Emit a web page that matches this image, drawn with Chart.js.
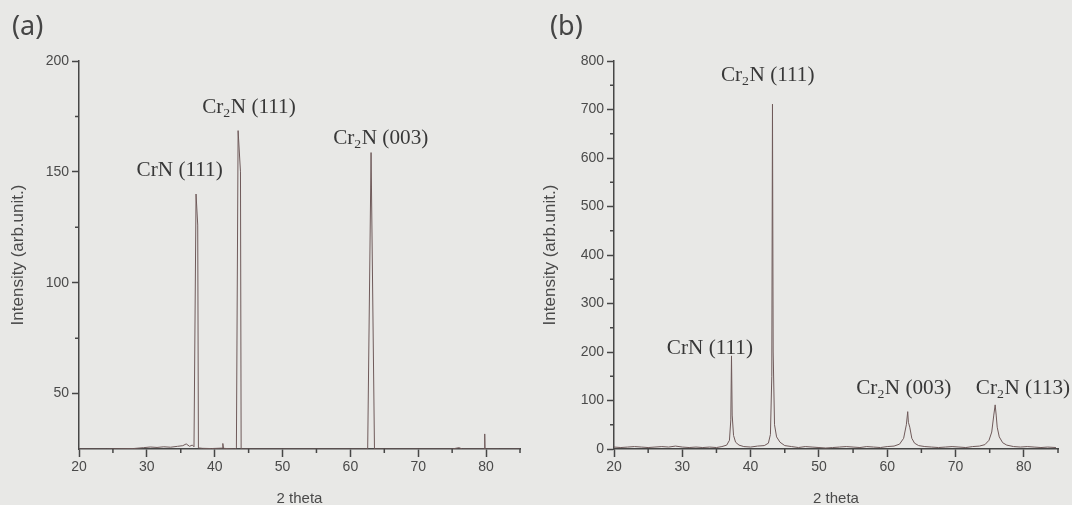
<!DOCTYPE html>
<html><head><meta charset="utf-8">
<script src="https://cdn.jsdelivr.net/npm/chart.js@4"></script>
<style>
html,body{margin:0;padding:0;background:#e8e8e6;width:1072px;height:505px;overflow:hidden;}
#wrapA{position:absolute;left:0;top:0;width:536px;height:505px;}
#wrapB{position:absolute;left:532px;top:0;width:540px;height:505px;}
.panel{position:absolute;font-family:'Noto Sans',sans-serif;font-size:27px;line-height:27px;color:#454545;z-index:2;}
</style></head><body>
<div id="wrapA"><canvas id="cA" width="536" height="505"></canvas></div>
<div id="wrapB"><canvas id="cB" width="540" height="505"></canvas></div>
<div class="panel" style="left:12px;top:11px">(a)</div>
<div class="panel" style="left:550px;top:11px">(b)</div>
<script>
// ---- data ----
const xMajor = [20, 30, 40, 50, 60, 70, 80];
const xMinor = [25, 35, 45, 55, 65, 75, 85];

// Panel (a)
const aTheta = [20, 24, 28, 29.5, 30.5, 31.5, 32.5, 33.5, 34.5, 35.3, 35.8, 36.3, 36.7, 36.95,
  37.25, 37.5, 37.6, 38.2, 39.5, 41.1, 41.2, 41.3, 43.0, 43.2, 43.45, 43.8, 43.9, 45, 50, 55,
  60, 62.55, 63.05, 63.55, 65, 70, 75, 76, 76.5, 79.75, 79.8, 79.85, 82, 85];
const aIntensity = [25, 25, 25.2, 25.6, 25.9, 25.7, 26, 25.8, 26.2, 26.5, 27.3, 26.2, 26.8, 26,
  140, 126, 25.5, 25.3, 25.2, 25.4, 27.5, 25.3, 25, 25.5, 168.6, 150, 25, 25, 25, 25,
  25, 25, 158.7, 25, 25, 25, 25, 25.6, 25, 25, 31.8, 25, 25, 25];
const aYMajor = [50, 100, 150, 200];
const aYMinor = [75, 125, 175];

// Panel (b)
const bTheta = [20, 21, 22, 23, 24, 25, 26, 27, 28, 29, 30, 31, 32, 33, 34, 35, 35.8, 36.5, 36.9,
  37.1, 37.2, 37.3, 37.5, 37.8, 38.3, 39, 40, 41, 42, 42.6, 42.9, 43.1, 43.2, 43.3, 43.5, 43.8,
  44.3, 45, 46, 47, 48, 49, 50, 51, 52, 53, 54, 55, 56, 57, 58, 59, 60, 61, 61.8, 62.4, 62.8,
  63.0, 63.1, 63.3, 63.6, 64, 64.6, 65.5, 66.5, 67.5, 68.5, 69.5, 70.5, 71.5, 72.5, 73.5, 74.3,
  74.9, 75.3, 75.6, 75.8, 75.95, 76.1, 76.4, 76.9, 77.5, 78.5, 79.5, 80.5, 81.5, 82.5, 83.5, 84.7];
const bIntensity = [4, 3, 4, 5, 4, 3, 4, 5, 4, 6, 4, 3, 4, 3, 4, 3, 5, 8, 18,
  60, 192, 70, 28, 14, 8, 5, 4, 6, 7, 12, 30, 150, 711, 200, 50, 25,
  14, 7, 5, 3, 5, 4, 3, 2, 3, 4, 5, 4, 3, 5, 4, 3, 5, 6, 10, 22, 50,
  77, 55, 45, 22, 12, 7, 5, 4, 3, 4, 5, 4, 3, 5, 6, 9,
  18, 35, 70, 91, 70, 45, 25, 13, 8, 5, 4, 5, 4, 3, 4, 3];
const bYMajor = [0, 100, 200, 300, 400, 500, 600, 700, 800];
const bYMinor = [50, 150, 250, 350, 450, 550, 650, 750];

// Peak labels: [text before subscript, subscript, text after]
const aLabels = [['CrN (111)', '', ''], ['Cr', '2', 'N (111)'], ['Cr', '2', 'N (003)']];
const bLabels = [['Cr', '2', 'N (111)'], ['CrN (111)', '', ''], ['Cr', '2', 'N (003)'], ['Cr', '2', 'N (113)']];

// ---- plugins ----
const AXIS = '#464646';
const minorTicks = {
  id: 'minorTicks',
  afterDraw(chart, args, opts) {
    const {ctx, scales: {x, y}} = chart;
    ctx.save();
    ctx.strokeStyle = AXIS; ctx.lineWidth = 1.5;
    ctx.beginPath();
    opts.xMinor.forEach(v => { const p = x.getPixelForValue(v); ctx.moveTo(p, x.top); ctx.lineTo(p, x.top + 4); });
    opts.yMinor.forEach(v => { const p = y.getPixelForValue(v); ctx.moveTo(y.right, p); ctx.lineTo(y.right - 4, p); });
    ctx.stroke();
    ctx.restore();
  }
};
const peakLabels = {
  id: 'peakLabels',
  afterDatasetsDraw(chart, args, opts) {
    const {ctx, scales: {x, y}} = chart;
    const main = '20px "Liberation Serif", "Times New Roman", serif';
    const small = '13px "Liberation Serif", "Times New Roman", serif';
    opts.items.forEach((it, i) => {
      const [a, s, b] = opts.texts[i];
      ctx.save();
      ctx.font = main; const wa = ctx.measureText(a).width; const wb = ctx.measureText(b).width;
      ctx.font = small; const ws = s ? ctx.measureText(s).width + 0.5 : 0;
      const total = wa + ws + wb;
      ctx.translate(x.getPixelForValue(it.x), y.getPixelForValue(it.y));
      ctx.scale(1.06, 1);
      ctx.fillStyle = '#383838';
      ctx.textAlign = 'left'; ctx.textBaseline = 'alphabetic';
      let px = -total / 2;
      ctx.font = main; ctx.fillText(a, px, 0); px += wa;
      if (s) { ctx.font = small; ctx.fillText(s, px, 4.5); px += ws; }
      ctx.font = main; ctx.fillText(b, px, 0);
      ctx.restore();
    });
  }
};

const TICKFONT = {family: "'Liberation Sans Narrow', 'Liberation Sans', Arial, sans-serif", size: 14};
const TITLEFONT = {family: "'Liberation Sans', Arial, sans-serif", size: 17};

function makeChart(id, xs, ys, yMin, yMax, yMajor, yMinor, texts, items, axisW, rightPad) {
  const pts = xs.map((v, i) => ({x: v, y: ys[i]}));
  return new Chart(document.getElementById(id), {
    type: 'line',
    data: {datasets: [{data: pts, borderColor: '#6f5a5a', borderWidth: 1, pointRadius: 0, tension: 0, fill: false}]},
    plugins: [minorTicks, peakLabels],
    options: {
      responsive: false, animation: false, devicePixelRatio: 1,
      layout: {padding: {left: 0, top: 61, right: rightPad, bottom: 0}},
      plugins: {
        legend: {display: false}, tooltip: {enabled: false},
        minorTicks: {xMinor: xMinor, yMinor: yMinor},
        peakLabels: {texts: texts, items: items}
      },
      scales: {
        x: {
          type: 'linear', min: 20, max: 85,
          afterBuildTicks: s => { s.ticks = xMajor.map(v => ({value: v})); },
          afterFit: s => { s.height = 56; },
          ticks: {font: TICKFONT, color: '#4a4a4a', padding: 2, maxRotation: 0, autoSkip: false},
          grid: {drawOnChartArea: false, tickLength: 8, tickColor: AXIS, tickWidth: 1.5},
          border: {color: AXIS, width: 1.5},
          title: {display: true, text: '2 theta', font: {...TITLEFONT, size: 15, lineHeight: 1}, color: '#4a4a4a', padding: {top: 0, bottom: -1}}
        },
        y: {
          min: yMin, max: yMax,
          afterBuildTicks: s => { s.ticks = yMajor.map(v => ({value: v})); },
          afterFit: s => { s.width = axisW; },
          ticks: {font: TICKFONT, color: '#4a4a4a', padding: 3},
          grid: {drawOnChartArea: false, tickLength: 7, tickColor: AXIS, tickWidth: 1.5},
          border: {color: AXIS, width: 1.5},
          title: {display: true, text: 'Intensity (arb.unit.)', font: {...TITLEFONT, lineHeight: 1.2}, color: '#4a4a4a', padding: {top: 8, bottom: 0}}
        }
      }
    }
  });
}

makeChart('cA', aTheta, aIntensity, 25, 200, aYMajor, aYMinor, aLabels,
  [{x: 34.84, y: 148}, {x: 45.05, y: 176.7}, {x: 64.47, y: 162.6}], 79, 16);
makeChart('cB', bTheta, bIntensity, 0, 800, bYMajor, bYMinor, bLabels,
  [{x: 42.5, y: 759}, {x: 34.04, y: 196.6}, {x: 62.42, y: 114}, {x: 79.87, y: 114}], 82, 14);
</script>
</body></html>
